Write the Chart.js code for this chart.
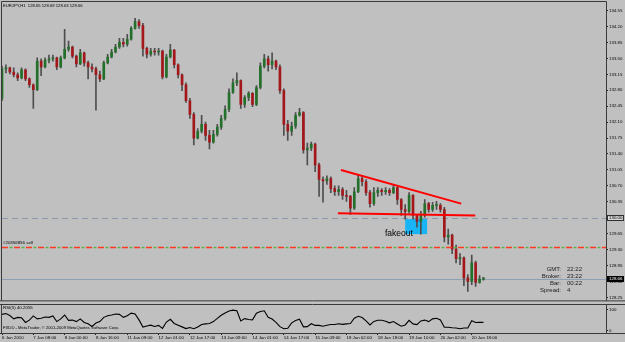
<!DOCTYPE html>
<html>
<head>
<meta charset="utf-8">
<script src="https://cdn.jsdelivr.net/npm/chart.js@4.4.1/dist/chart.umd.min.js"></script>
<style>
  html, body { margin: 0; padding: 0; background: #c0c0c0; }
  #wrap { position: relative; width: 625px; height: 342px; overflow: hidden; background: #c0c0c0; }
  canvas { position: absolute; left: 0; }
  #main { top: 0; }
  #rsi  { top: 304px; }
</style>
</head>
<body>
<div id="wrap">
  <canvas id="main" width="625" height="304"></canvas>
  <canvas id="rsi" width="625" height="38"></canvas>
</div>
<script>
/* ── EURJPY H1, one candle per 2 hours (index = candle number) ── */
const opens = [
  132.62,133.27,133.29,133.20,133.14,133.07,133.25,133.05,132.92,132.81,
  133.44,133.31,133.46,133.49,133.51,133.31,133.51,133.70,133.75,133.55,
  133.38,133.62,133.40,133.31,133.27,133.14,133.05,133.40,133.53,133.64,
  133.75,133.85,133.81,133.92,134.16,134.31,134.22,133.72,133.59,133.66,
  133.64,133.66,133.09,133.53,133.68,133.36,133.14,132.92,132.57,132.27,
  131.75,131.90,132.05,131.81,131.66,131.83,131.99,132.18,132.38,132.75,
  132.96,133.01,132.49,132.64,132.73,132.49,132.86,133.33,133.49,133.36,
  133.44,133.31,132.79,132.05,131.90,132.01,132.25,132.31,131.49,131.53,
  131.62,131.16,130.84,130.81,130.86,130.64,130.57,130.62,130.49,130.47,
  130.21,130.57,130.86,130.79,130.55,130.31,130.55,130.60,130.57,130.60,
  130.55,130.66,130.40,130.18,130.14,130.49,130.05,129.92,130.05,130.31,
  130.18,130.27,130.27,130.18,129.58,129.62,129.31,129.10,129.12,128.68,
  128.60,129.01,128.58,128.65
];
const closes = [
  133.27,133.29,133.20,133.14,133.07,133.25,133.05,132.92,132.81,133.44,
  133.31,133.46,133.49,133.51,133.31,133.51,133.70,133.75,133.55,133.38,
  133.62,133.40,133.31,133.27,133.14,133.05,133.40,133.53,133.64,133.75,
  133.85,133.81,133.92,134.16,134.31,134.22,133.72,133.59,133.66,133.64,
  133.66,133.09,133.53,133.68,133.36,133.14,132.92,132.57,132.27,131.75,
  131.90,132.05,131.81,131.66,131.83,131.99,132.18,132.38,132.75,132.96,
  133.01,132.49,132.64,132.73,132.49,132.86,133.33,133.49,133.36,133.44,
  133.31,132.79,132.05,131.90,132.01,132.25,132.31,131.49,131.53,131.62,
  131.16,130.84,130.81,130.86,130.64,130.57,130.62,130.49,130.47,130.21,
  130.57,130.86,130.79,130.55,130.31,130.55,130.60,130.57,130.60,130.55,
  130.66,130.40,130.18,130.14,130.49,130.05,129.92,130.05,130.31,130.18,
  130.27,130.27,130.18,129.58,129.62,129.31,129.10,129.12,128.68,128.60,
  129.01,128.58,128.65,128.66
];
const highs = [
  133.33,133.36,133.31,133.29,133.18,133.29,133.27,133.07,132.94,133.51,
  133.49,133.51,133.57,133.57,133.53,133.55,134.14,133.88,133.77,133.57,
  133.70,133.64,133.44,133.38,133.31,133.22,133.44,133.59,133.70,133.81,
  133.94,133.94,134.03,134.20,134.38,134.35,134.27,133.75,133.72,133.72,
  133.72,133.68,133.59,133.81,133.70,133.38,133.16,132.96,132.62,132.31,
  131.96,132.25,132.10,131.92,131.92,132.05,132.25,132.46,132.83,133.05,
  133.18,133.03,132.68,132.77,132.75,132.90,133.40,133.59,133.55,133.62,
  133.46,133.36,132.83,132.14,132.10,132.31,132.40,132.33,131.64,131.66,
  131.64,131.20,130.90,130.92,130.90,130.70,130.70,130.66,130.60,130.49,
  130.66,130.94,130.92,130.84,130.60,130.66,130.66,130.64,130.66,130.64,
  130.73,130.68,130.42,130.29,130.55,130.51,130.07,130.14,130.40,130.34,
  130.34,130.36,130.31,130.23,129.75,129.64,129.40,129.21,129.14,128.75,
  129.18,129.05,128.73,128.69
];
const lows = [
  132.57,133.18,133.16,133.09,133.01,133.05,133.01,132.86,132.40,132.79,
  133.12,133.29,133.40,133.44,133.25,133.29,133.49,133.66,133.51,133.31,
  133.36,133.33,133.05,133.20,132.36,132.99,133.03,133.38,133.51,133.62,
  133.72,133.75,133.77,133.90,134.14,134.16,133.55,133.51,133.55,133.57,
  133.57,133.05,133.07,133.51,133.29,133.07,132.79,132.53,132.18,131.60,
  131.73,131.86,131.70,131.51,131.64,131.79,131.94,132.14,132.33,132.73,
  132.90,132.40,132.42,132.57,132.44,132.46,132.83,133.29,133.22,133.27,
  133.25,132.73,131.81,131.70,131.81,131.96,132.23,131.42,131.16,131.47,
  131.01,130.47,130.34,130.73,130.55,130.49,130.49,130.40,130.36,130.07,
  130.18,130.55,130.70,130.49,130.23,130.27,130.47,130.49,130.51,130.49,
  130.53,130.29,130.05,129.97,130.10,129.97,129.79,129.64,130.01,130.12,
  130.14,130.18,130.12,129.47,129.42,129.21,129.01,128.97,128.51,128.38,
  128.53,128.49,128.56,128.63
];
/* RSI(5), same candles */
const rsiValues = [
  78,82,73,57,64,62,40,51,71,57,
  60,66,64,71,44,57,75,50,51,44,
  57,40,34,21,37,44,64,72,75,80,
  78,64,72,84,80,52,18,23,27,21,
  26,12,42,55,35,27,19,11,16,10,
  18,30,33,35,44,59,74,85,94,98,
  95,47,58,54,52,84,92,95,64,56,
  40,20,10,12,38,49,55,19,20,34,
  26,26,22,27,30,30,34,31,33,35,
  60,69,63,47,28,45,50,50,46,38,
  44,33,22,28,50,33,30,47,51,44,
  57,60,52,17,17,15,14,10,14,14,
  48,40,41,40.2
];

const priceTicks = [128.25,128.60,128.95,129.30,129.65,130.00,130.35,130.70,131.05,131.40,
                    131.75,132.10,132.45,132.80,133.15,133.50,133.85,134.20,134.55];
const timeTickIdx = [0,8,16,24,32,40,48,56,64,72,80,88,96,104,112,120];
const timeLabels = ['6 Jan 2010','7 Jan 08:00','8 Jan 00:00','8 Jan 16:00','11 Jan 09:00','12 Jan 01:00',
                    '12 Jan 17:00','13 Jan 09:00','14 Jan 01:00','14 Jan 17:00','15 Jan 09:00','18 Jan 02:00',
                    '18 Jan 18:00','19 Jan 10:00','20 Jan 02:00','20 Jan 18:00'];

/* chart objects, in (candle, price) */
const levelPrice  = 130.00;
const orderPrice  = 129.36;
const bidPrice    = 128.66;
const upperTrend  = [[86.6, 131.05], [117.3, 130.31]];
const lowerTrend  = [[85.8, 130.10], [120.9, 130.05]];
const fakeoutBox  = [[103.0, 129.97], [108.6, 129.64]];

const X_MAX = 154.3;
const UP = '#23702a', DOWN = '#a3161a', WICK = '#4e4e4e';
const FONT = '"Liberation Sans", Arial, sans-serif';

Chart.defaults.font.family = FONT;
Chart.defaults.color = '#111';

function hline(ctx, area, py, color, dash, offset, width) {
  ctx.beginPath();
  ctx.setLineDash(dash || []);
  ctx.lineDashOffset = offset || 0;
  ctx.strokeStyle = color;
  ctx.lineWidth = width || 1;
  const yy = Math.round(py) + 0.5;
  ctx.moveTo(area.left, yy);
  ctx.lineTo(area.right, yy);
  ctx.stroke();
  ctx.setLineDash([]);
  ctx.lineDashOffset = 0;
}

function axisBox(ctx, py, txt, fill, stroke, color) {
  ctx.fillStyle = fill;
  ctx.fillRect(607, Math.round(py) - 3, 17, 6);
  if (stroke) { ctx.strokeStyle = stroke; ctx.lineWidth = 1; ctx.strokeRect(607.5, Math.round(py) - 2.5, 16, 5); }
  ctx.fillStyle = color;
  ctx.font = '4.4px ' + FONT;
  ctx.textAlign = 'left';
  ctx.textBaseline = 'middle';
  ctx.fillText(txt, 609, py + 0.3);
}

const mainExtras = {
  id: 'mainExtras',
  beforeDatasetsDraw(chart) {
    const { ctx, chartArea: a, scales: { x, y } } = chart;
    ctx.save();
    const bx0 = x.getPixelForValue(fakeoutBox[0][0]), bx1 = x.getPixelForValue(fakeoutBox[1][0]);
    const by0 = y.getPixelForValue(fakeoutBox[0][1]), by1 = y.getPixelForValue(fakeoutBox[1][1]);
    ctx.fillStyle = '#18b4f4';
    ctx.fillRect(bx0, by0, bx1 - bx0, by1 - by0);

    hline(ctx, a, y.getPixelForValue(levelPrice), '#8a9aab', [6, 4]);
    hline(ctx, a, y.getPixelForValue(bidPrice), '#8ea0b4');
    ctx.restore();
  },
  afterDatasetsDraw(chart) {
    const { ctx, chartArea: a, scales: { x, y } } = chart;
    ctx.save();
    const oy = y.getPixelForValue(orderPrice);
    hline(ctx, a, oy, '#ff3a22', [6, 6], 0, 1.4);
    hline(ctx, a, oy, '#5fb04a', [3, 9], -7.5, 1.4);

    ctx.strokeStyle = '#ff0000';
    ctx.lineWidth = 2;
    [upperTrend, lowerTrend].forEach(t => {
      ctx.beginPath();
      ctx.moveTo(x.getPixelForValue(t[0][0]), y.getPixelForValue(t[0][1]));
      ctx.lineTo(x.getPixelForValue(t[1][0]), y.getPixelForValue(t[1][1]));
      ctx.stroke();
    });

    ctx.fillStyle = '#000';
    ctx.textBaseline = 'middle';
    ctx.textAlign = 'left';
    ctx.font = '8.5px ' + FONT;
    ctx.fillText('fakeout', 385, 233.5);

    ctx.font = '4.2px ' + FONT;
    ctx.fillText('EURJPY,H1  128.65 128.69 128.63 128.66', 3, 5.5);
    ctx.font = '4.4px ' + FONT;
    ctx.fillText('#20356856 sell', 3, oy - 4);

    ctx.font = '6px ' + FONT;
    ctx.fillStyle = '#202020';
    const info = [['GMT:', '22:22'], ['Broker:', '23:22'], ['Bar:', '00:22'], ['Spread:', '4']];
    info.forEach((r, i) => {
      const ty = 269.5 + i * 7;
      ctx.textAlign = 'right';
      ctx.fillText(r[0], 561, ty);
      ctx.textAlign = 'left';
      ctx.fillText(r[1], 567, ty);
    });
    ctx.restore();
  },
  afterDraw(chart) {
    const { ctx, chartArea: a, scales: { y } } = chart;
    ctx.save();
    axisBox(ctx, y.getPixelForValue(levelPrice), '130.00', '#d6d6d6', '#303030', '#000');
    axisBox(ctx, y.getPixelForValue(bidPrice), '128.66', '#000', null, '#fff');
    ctx.strokeStyle = '#3a3a3a';
    ctx.lineWidth = 1;
    ctx.beginPath();
    ctx.moveTo(1.5, a.bottom + 0.5); ctx.lineTo(1.5, 1.5); ctx.lineTo(a.right + 0.5, 1.5);
    ctx.lineTo(a.right + 0.5, a.bottom + 0.5);
    ctx.moveTo(0, a.bottom + 0.5); ctx.lineTo(625, a.bottom + 0.5);
    ctx.stroke();
    ctx.restore();
  }
};

const rsiExtras = {
  id: 'rsiExtras',
  afterDraw(chart) {
    const { ctx, chartArea: a } = chart;
    ctx.save();
    ctx.strokeStyle = '#3a3a3a';
    ctx.lineWidth = 1;
    ctx.beginPath();
    ctx.moveTo(0, 0.5); ctx.lineTo(625, 0.5);
    ctx.moveTo(1.5, 0.5); ctx.lineTo(1.5, a.bottom + 0.5);
    ctx.moveTo(a.right + 0.5, 0.5); ctx.lineTo(a.right + 0.5, a.bottom + 0.5);
    ctx.moveTo(0, a.bottom + 0.5); ctx.lineTo(625, a.bottom + 0.5);
    ctx.stroke();
    ctx.fillStyle = '#000';
    ctx.textAlign = 'left';
    ctx.textBaseline = 'middle';
    ctx.font = '4.4px ' + FONT;
    ctx.fillText('RSI(5) 40.2055', 3, 3.5);
    ctx.font = '4.2px ' + FONT;
    ctx.fillText('FXDD - MetaTrader, \u00a9 2001-2009 MetaQuotes Software Corp.', 3, 24);
    ctx.restore();
  }
};

const bodyColors = closes.map((c, i) => c >= opens[i] ? UP : DOWN);

new Chart(document.getElementById('main'), {
  type: 'bar',
  data: {
    datasets: [
      {
        label: 'body', order: 0, grouped: false,
        data: closes.map((c, i) => ({ x: i, y: [opens[i], c] })),
        backgroundColor: bodyColors, barThickness: 2, minBarLength: 1, borderWidth: 0
      },
      {
        label: 'wick', order: 1, grouped: false,
        data: highs.map((h, i) => ({ x: i, y: [lows[i], h] })),
        backgroundColor: WICK, barThickness: 1, borderWidth: 0
      }
    ]
  },
  options: {
    responsive: false, animation: false, events: [],
    devicePixelRatio: 1,
    layout: { padding: { left: 2, top: 2, right: 0, bottom: 2 } },
    plugins: { legend: { display: false }, tooltip: { enabled: false } },
    scales: {
      x: { type: 'linear', min: 0, max: X_MAX, offset: false, display: false },
      y: {
        position: 'right', min: 128.185, max: 134.702,
        afterBuildTicks: s => { s.ticks = priceTicks.map(v => ({ value: v })); },
        afterFit: s => { s.width = 19; },
        grid: { drawOnChartArea: false, drawTicks: true, tickLength: 2, color: '#202020' },
        border: { display: false },
        ticks: { autoSkip: false, padding: 1, font: { size: 4.4 }, color: '#000',
                 callback: v => v.toFixed(2) }
      }
    }
  },
  plugins: [mainExtras]
});

new Chart(document.getElementById('rsi'), {
  type: 'line',
  data: {
    datasets: [{
      label: 'RSI(5)',
      data: rsiValues.map((v, i) => ({ x: i, y: v })),
      borderColor: '#000', borderWidth: 1.1, pointRadius: 0, tension: 0, fill: false
    }]
  },
  options: {
    responsive: false, animation: false, events: [],
    devicePixelRatio: 1,
    layout: { padding: { left: 2, top: 0, right: 0, bottom: 0 } },
    plugins: { legend: { display: false }, tooltip: { enabled: false } },
    scales: {
      x: {
        type: 'linear', min: 0, max: X_MAX, offset: false,
        afterBuildTicks: s => { s.ticks = timeTickIdx.map(v => ({ value: v })); },
        afterFit: s => { s.height = 9; },
        grid: { drawOnChartArea: false, drawTicks: true, tickLength: 2, color: '#202020' },
        border: { display: false },
        ticks: { autoSkip: false, maxRotation: 0, align: 'start', padding: 0,
                 font: { size: 4.4 }, color: '#000', callback: (v, i) => timeLabels[i] }
      },
      y: {
        position: 'right', min: -10, max: 110,
        afterBuildTicks: s => { s.ticks = [{ value: 0 }, { value: 100 }]; },
        afterFit: s => { s.width = 19; },
        grid: { drawOnChartArea: false, drawTicks: true, tickLength: 2, color: '#202020' },
        border: { display: false },
        ticks: { autoSkip: false, padding: 1, font: { size: 4.4 }, color: '#000',
                 callback: v => String(v) }
      }
    }
  },
  plugins: [rsiExtras]
});
</script>
</body>
</html>
